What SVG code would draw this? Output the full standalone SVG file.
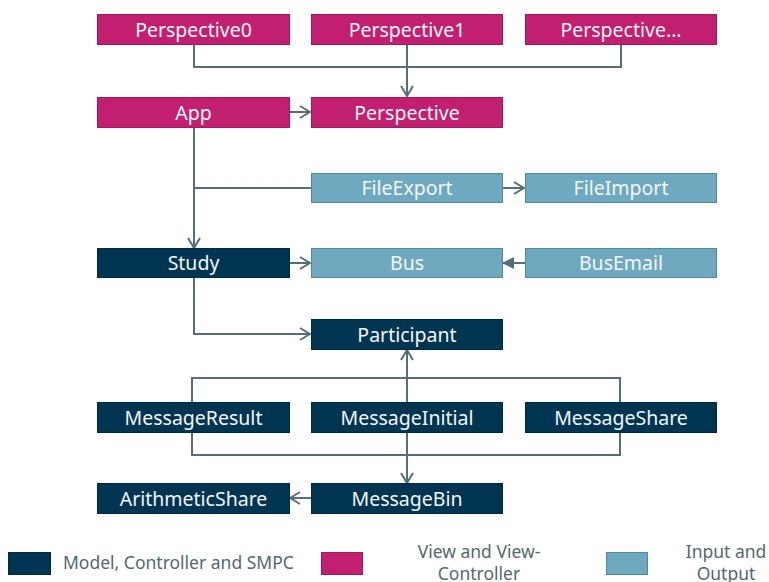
<svg xmlns="http://www.w3.org/2000/svg" width="769" height="582" viewBox="0 0 769 582">
<style>
.b rect{stroke-width:1}
.m rect{fill:#003552;stroke:#002a42}
.v rect{fill:#c21f70;stroke:#9e1a5c}
.io rect{fill:#6fa9bf;stroke:#4f8aa0}
text.t{font-family:"Noto Sans","Open Sans",sans-serif;font-size:19.5px;fill:#f4f6f8;text-anchor:middle;dominant-baseline:central}
text.l{font-family:"Noto Sans","Open Sans",sans-serif;font-size:17.5px;fill:#55696f}
.c{fill:none;stroke:#566e78;stroke-width:2}
</style>
<defs>
<marker id="open" markerWidth="12" markerHeight="14" refX="11" refY="7" orient="auto" markerUnits="userSpaceOnUse">
<path d="M1,1 L11,7 L1,13" fill="none" stroke="#566e78" stroke-width="2"/>
</marker>
<marker id="fill" markerWidth="12" markerHeight="14" refX="11" refY="7" orient="auto" markerUnits="userSpaceOnUse">
<path d="M0,1 L12,7 L0,13 Z" fill="#566e78"/>
</marker>
</defs>
<g id="connectors">
<path class="c" d="M194,44 V67 H621 V44"/>
<path class="c" d="M407,44 V96" marker-end="url(#open)"/>
<path class="c" d="M289,112 H310" marker-end="url(#open)"/>
<path class="c" d="M194,127 V248" marker-end="url(#open)"/>
<path class="c" d="M194,188 H311"/>
<path class="c" d="M502,188 H524" marker-end="url(#open)"/>
<path class="c" d="M289,263 H310" marker-end="url(#open)"/>
<path class="c" d="M525,263 H503" marker-end="url(#fill)"/>
<path class="c" d="M194,277 V334 H310" marker-end="url(#open)"/>
<path class="c" d="M407,402 V350" marker-end="url(#open)"/>
<path class="c" d="M192,402 V378 H620 V402"/>
<path class="c" d="M192,432 V455 H620 V432"/>
<path class="c" d="M407,432 V483" marker-end="url(#open)"/>
<path class="c" d="M311,498 H290" marker-end="url(#open)"/>
</g>
<g id="Perspective0" class="b v"><rect x="97.5" y="14.5" width="192" height="30"/><text class="t" x="193.5" y="29">Perspective0</text></g>
<g id="Perspective1" class="b v"><rect x="311.5" y="14.5" width="191" height="30"/><text class="t" x="407" y="29">Perspective1</text></g>
<g id="PerspectiveN" class="b v"><rect x="525.5" y="14.5" width="191" height="30"/><text class="t" x="621" y="29">Perspective...</text></g>
<g id="App" class="b v"><rect x="97.5" y="97.5" width="192" height="30"/><text class="t" x="193.5" y="112">App</text></g>
<g id="Perspective" class="b v"><rect x="311.5" y="97.5" width="191" height="30"/><text class="t" x="407" y="112">Perspective</text></g>
<g id="FileExport" class="b io"><rect x="311.5" y="173.5" width="191" height="29"/><text class="t" x="407" y="187.5">FileExport</text></g>
<g id="FileImport" class="b io"><rect x="525.5" y="173.5" width="191" height="29"/><text class="t" x="621" y="187.5">FileImport</text></g>
<g id="Study" class="b m"><rect x="97.5" y="248.5" width="192" height="29"/><text class="t" x="193.5" y="262.5">Study</text></g>
<g id="Bus" class="b io"><rect x="311.5" y="248.5" width="191" height="29"/><text class="t" x="407" y="262.5">Bus</text></g>
<g id="BusEmail" class="b io"><rect x="525.5" y="248.5" width="191" height="29"/><text class="t" x="621" y="262.5">BusEmail</text></g>
<g id="Participant" class="b m"><rect x="311.5" y="319.5" width="191" height="30"/><text class="t" x="407" y="334">Participant</text></g>
<g id="MessageResult" class="b m"><rect x="97.5" y="402.5" width="192" height="30"/><text class="t" x="193.5" y="417">MessageResult</text></g>
<g id="MessageInitial" class="b m"><rect x="311.5" y="402.5" width="191" height="30"/><text class="t" x="407" y="417">MessageInitial</text></g>
<g id="MessageShare" class="b m"><rect x="525.5" y="402.5" width="191" height="30"/><text class="t" x="621" y="417">MessageShare</text></g>
<g id="ArithmeticShare" class="b m"><rect x="97.5" y="483.5" width="192" height="30"/><text class="t" x="193.5" y="498">ArithmeticShare</text></g>
<g id="MessageBin" class="b m"><rect x="311.5" y="483.5" width="191" height="30"/><text class="t" x="407" y="498">MessageBin</text></g>
<g id="legend">
<g class="b m"><rect x="8.5" y="552.5" width="42" height="22"/></g>
<text class="l" x="63" y="569">Model, Controller and SMPC</text>
<g class="b v"><rect x="321.5" y="552.5" width="41" height="22"/></g>
<text class="l" x="479" y="558" text-anchor="middle">View and View-</text>
<text class="l" x="479" y="580" text-anchor="middle">Controller</text>
<g class="b io"><rect x="606.5" y="552.5" width="41" height="22"/></g>
<text class="l" x="726" y="558" text-anchor="middle">Input and</text>
<text class="l" x="726" y="580" text-anchor="middle">Output</text>
</g>
</svg>
